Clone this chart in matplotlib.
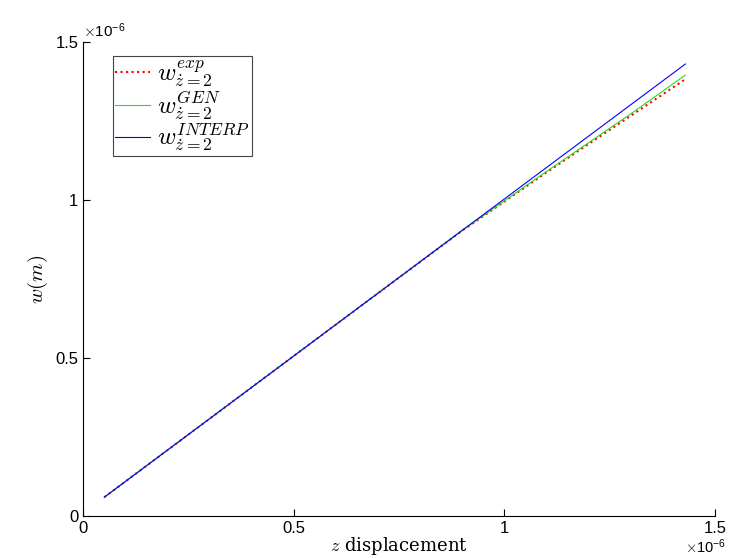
import numpy as np
import matplotlib
matplotlib.use("Agg")
import matplotlib.pyplot as plt

plt.rcParams['mathtext.fontset'] = 'cm'
plt.rcParams['font.family'] = ['Liberation Sans', 'DejaVu Sans']

scale = 1e-6
z_exp = [0.05, 0.3, 0.6, 0.9, 1.0, 1.1, 1.2, 1.3, 1.43]
w_exp = [0.06, 0.308, 0.606, 0.903, 0.995, 1.087, 1.177, 1.266, 1.382]
z_gen = [0.05, 0.3, 0.6, 0.9, 1.0, 1.1, 1.2, 1.3, 1.43]
w_gen = [0.06, 0.308, 0.606, 0.904, 0.997, 1.090, 1.181, 1.272, 1.395]
z_int = [0.05, 1.43]
w_int = [0.06, 1.43]
ticks = [0, 0.5, 1, 1.5]
tick_labels = ['0', '0.5', '1', '1.5']

fig = plt.figure(figsize=(7.37, 5.58), dpi=100)
ax = fig.add_axes([0.113, 0.075, 0.857, 0.850])

ax.plot(np.array(z_exp) * scale, np.array(w_exp) * scale, color='red', ls=':', lw=1.5,
        label=r'$w^{exp}_{\dot{z}=2}$')
ax.plot(np.array(z_gen) * scale, np.array(w_gen) * scale, color='#22dd22', lw=0.8,
        label=r'$w^{GEN}_{\dot{z}=2}$')
ax.plot(np.array(z_int) * scale, np.array(w_int) * scale, color='blue', lw=0.8,
        label=r'$w^{INTERP}_{\dot{z}=2}$')

ax.set_xlim(0, 1.5e-6)
ax.set_ylim(0, 1.5e-6)
ax.set_xticks(np.array(ticks) * scale, tick_labels)
ax.set_yticks(np.array(ticks) * scale, tick_labels)
ax.spines['top'].set_visible(False)
ax.spines['right'].set_visible(False)
ax.tick_params(direction='in', labelsize=12, length=5)
ax.text(0, 1.01, r'$\times\mathregular{10^{-6}}$', transform=ax.transAxes, fontsize=11)
ax.text(0.985, -0.045, r'$\times\mathregular{10^{-6}}$', transform=ax.transAxes, fontsize=10.5,
        va='top', ha='center')
ax.set_xlabel(r'$z$ displacement', fontsize=13, family='serif')
ax.set_ylabel(r'$w(m)$', fontsize=15)
ax.xaxis.labelpad = -1

leg = ax.legend(loc='upper left', bbox_to_anchor=(0.047, 0.97), fontsize=18,
                fancybox=False, framealpha=1, edgecolor='#444444',
                handlelength=1.4, handletextpad=0.25, borderpad=0.1, labelspacing=0.0,
                borderaxespad=0)
leg.get_frame().set_linewidth(0.8)

fig.savefig('out.png', dpi=100)
